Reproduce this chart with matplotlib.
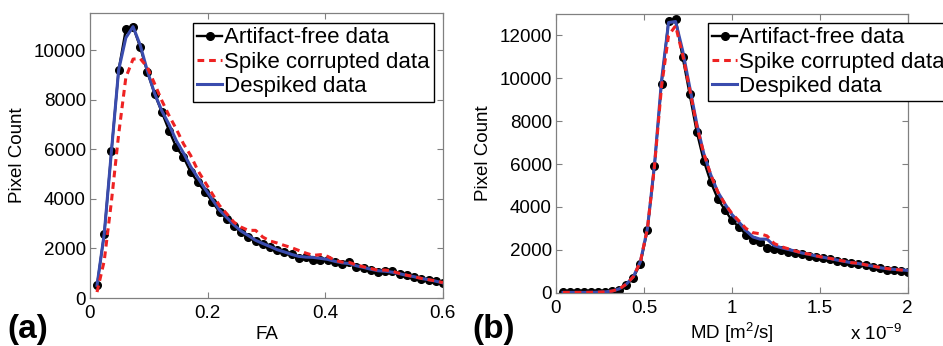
import numpy as np
import matplotlib
matplotlib.use('Agg')
import matplotlib.pyplot as plt

# FA histogram (panel a)
fa_x = np.linspace(0.012, 0.6, 49)
fa_free = [510, 2590, 5920, 9200, 10850, 10950, 10110, 9100, 8230, 7490,
           6750, 6080, 5680, 5080, 4670, 4270, 3890, 3460, 3200, 2890,
           2660, 2480, 2300, 2190, 2050, 1920, 1850, 1760, 1620, 1650,
           1540, 1520, 1520, 1450, 1380, 1450, 1250, 1210, 1140, 1050,
           1110, 1110, 980, 910, 850, 780, 740, 685, 600]
fa_spike = [240, 1500, 3900, 6600, 8900, 9640, 9660, 9300, 8640, 7960,
            7360, 6820, 6220, 5750, 5140, 4670, 4200, 3730, 3400, 3060,
            2860, 2730, 2730, 2460, 2300, 2220, 2120, 2030, 1920, 1810,
            1720, 1750, 1680, 1520, 1450, 1440, 1330, 1260, 1190, 1120,
            1130, 1080, 990, 920, 860, 790, 740, 690, 620]
fa_despiked = [510, 2590, 5920, 9200, 10500, 10950, 10200, 9150, 8250, 7550,
               7000, 6350, 5850, 5300, 4850, 4400, 3980, 3550, 3250, 2950,
               2700, 2520, 2330, 2200, 2080, 1950, 1860, 1760, 1680, 1650,
               1640, 1600, 1560, 1480, 1420, 1390, 1300, 1230, 1160, 1100,
               1080, 1040, 980, 910, 860, 790, 740, 680, 610]

# MD histogram (panel b), x in units of 1e-9 m^2/s
md_x = np.linspace(0.04, 2.0, 50)
md_free = [15, 15, 15, 15, 20, 20, 30, 60, 150, 350,
           700, 1360, 2940, 5930, 9750, 12690, 12790, 10990, 9260, 7510,
           6160, 5150, 4380, 3870, 3370, 3070, 2710, 2450, 2370, 2100,
           2030, 1980, 1900, 1840, 1800, 1720, 1650, 1620, 1560, 1480,
           1420, 1380, 1330, 1270, 1200, 1130, 1080, 1040, 1020, 970]
md_spike = [15, 15, 15, 15, 20, 25, 40, 80, 180, 400,
            750, 1450, 3000, 5900, 9600, 12000, 12450, 11100, 9500, 7800,
            6500, 5500, 4700, 4150, 3700, 3350, 3000, 2800, 2750, 2650,
            2300, 2150, 2050, 1950, 1850, 1800, 1720, 1650, 1600, 1530,
            1470, 1400, 1380, 1300, 1250, 1180, 1130, 1090, 1060, 1020]
md_despiked = [15, 15, 15, 15, 20, 25, 40, 80, 180, 400,
               750, 1450, 3000, 5950, 9900, 12600, 12650, 11300, 9600, 7900,
               6500, 5500, 4700, 4150, 3650, 3300, 2900, 2600, 2500, 2500,
               2200, 2100, 2020, 1940, 1850, 1790, 1710, 1650, 1590, 1520,
               1460, 1400, 1360, 1300, 1240, 1170, 1120, 1090, 1070, 1040]

labels = ['Artifact-free data', 'Spike corrupted data', 'Despiked data']

plt.rcParams['font.family'] = ['Liberation Sans', 'DejaVu Sans']
plt.rcParams['mathtext.default'] = 'regular'

fig = plt.figure(figsize=(9.43, 3.46), dpi=100)
ax_a = fig.add_axes([0.0954, 0.1387, 0.3743, 0.8237])
ax_b = fig.add_axes([0.5896, 0.1540, 0.3730, 0.8055])

gray = '#808080'
red = '#ee2222'
blue = '#3a4cae'


def draw(ax, x, free, spike, desp):
    h1, = ax.plot(x, free, '-o', color='black', lw=1.7, ms=5.5, zorder=2)
    h3, = ax.plot(x, desp, '-', color=blue, lw=2.2, zorder=3)
    h2, = ax.plot(x, spike, '--', color=red, lw=2.2, dashes=(2.2, 1.6), zorder=4)
    for s in ax.spines.values():
        s.set_color(gray)
        s.set_linewidth(0.9)
    ax.tick_params(direction='in', top=True, right=True, length=4,
                   width=0.8, color=gray, labelsize=13.6, labelcolor='black')
    ax.tick_params(axis='x', pad=5)
    ax.tick_params(axis='y', pad=3)
    ax.set_ylabel('Pixel Count', fontsize=13.5, labelpad=5)
    return [h1, h2, h3]


# panel (a)
hs = draw(ax_a, fa_x, fa_free, fa_spike, fa_despiked)
ax_a.set_xlim(0, 0.6)
ax_a.set_ylim(0, 11500)
ax_a.set_xticks([0, 0.2, 0.4, 0.6])
ax_a.set_xticklabels(['0', '0.2', '0.4', '0.6'])
ax_a.set_yticks(range(0, 10001, 2000))
ax_a.set_xlabel('FA', fontsize=13.5, labelpad=3)
ax_a.legend(hs, labels, loc='upper left', bbox_to_anchor=(0.292, 0.965),
            fontsize=16, frameon=True, fancybox=False, edgecolor='black',
            framealpha=1, handlelength=1.1, handletextpad=0.1,
            labelspacing=0.15, borderpad=0.2, borderaxespad=0)

# panel (b)
hs = draw(ax_b, md_x, md_free, md_spike, md_despiked)
ax_b.set_xlim(0, 2)
ax_b.set_ylim(0, 13000)
ax_b.set_xticks([0, 0.5, 1, 1.5, 2])
ax_b.set_xticklabels(['0', '0.5', '1', '1.5', '2'])
ax_b.set_yticks(range(0, 12001, 2000))
ax_b.set_xlabel('MD [m$^{2}$/s]', fontsize=13.5, labelpad=3)
ax_b.text(0.985, -0.17, r'x 10$^{-9}$', transform=ax_b.transAxes,
          ha='right', va='baseline', fontsize=13.5)
ax_b.legend(hs, labels, loc='upper left', bbox_to_anchor=(0.432, 0.968),
            fontsize=16, frameon=True, fancybox=False, edgecolor='black',
            framealpha=1, handlelength=1.1, handletextpad=0.1,
            labelspacing=0.15, borderpad=0.2, borderaxespad=0)

fig.text(0.008, 0.022, '(a)', fontsize=24, fontweight='bold')
fig.text(0.501, 0.022, '(b)', fontsize=24, fontweight='bold')

fig.savefig('out.png', dpi=100)
